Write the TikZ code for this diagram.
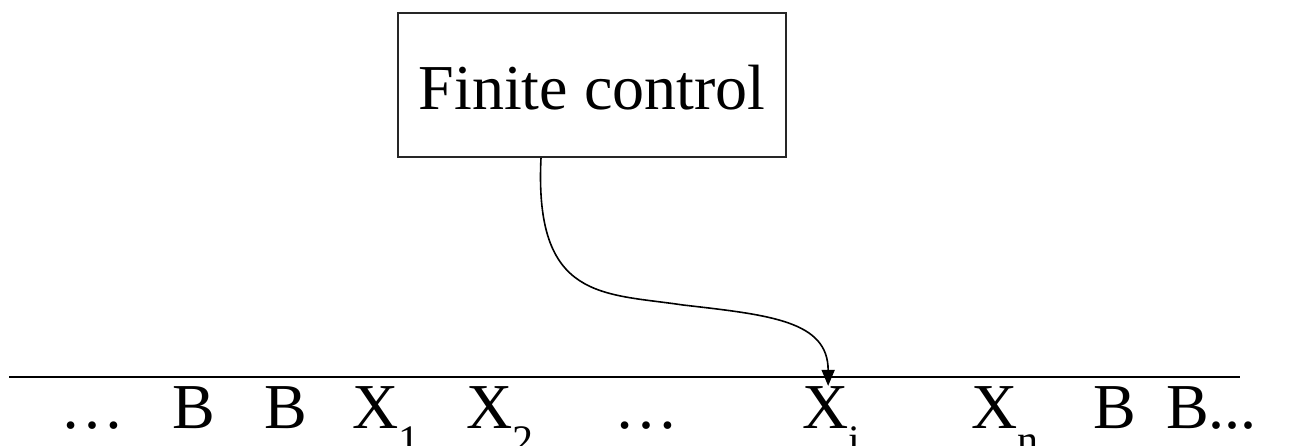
\documentclass[tikz,border=0pt]{standalone}
\usepackage{fontspec}
\setmainfont{Liberation Serif}
\usetikzlibrary{arrows.meta}
\newcommand{\tsub}[1]{\raisebox{-26pt}{\fontsize{42}{44}\selectfont #1}}
\tikzset{
  ctrlbox/.style={draw=black!85, line width=1.6pt, inner sep=0pt,
    minimum width=388pt, minimum height=144pt, text height=50pt,
    font=\fontsize{64}{70}\selectfont},
  cell/.style={anchor=base west, inner sep=0pt,
    font=\fontsize{64}{70}\selectfont},
  tape/.style={line width=1.6pt},
  head/.style={line width=1.6pt, -{Triangle[length=16pt,width=13pt]}},
}

\begin{document}
\begin{tikzpicture}[x=1pt, y=-1pt]
\useasboundingbox (0,0) rectangle (1291,445);

%% Finite control
\node[ctrlbox] (fc) at (592,85) {Finite control};

%% Tape
\coordinate (tapeL) at (9,377);
\coordinate (tapeR) at (1240,377);
\draw[tape] (tapeL) -- (tapeR);

\node[cell] (dl) at (60,428)   {\dots};
\node[cell] (b1) at (172,428)  {B};
\node[cell] (b2) at (264,428)  {B};
\node[cell] (x1) at (352,428)  {X\tsub{1}};
\node[cell] (x2) at (466,428)  {X\tsub{2}};
\node[cell] (dm) at (614,428)  {\dots};
\node[cell] (xi) at (802,428)  {X\tsub{i}};
\node[cell] (xn) at (971,428)  {X\tsub{n}};
\node[cell] (b3) at (1093,428) {B};
\node[cell] (b4) at (1166,428) {B...};

%% Head
\coordinate (bend) at (683,305);
\draw[head] ([xshift=-51pt]fc.south)
  .. controls +(-7,143) and (603,293) .. (bend)
  .. controls (770,315) and +(0,-65) .. ([xshift=-3pt]xi.north);
\end{tikzpicture}
\end{document}
